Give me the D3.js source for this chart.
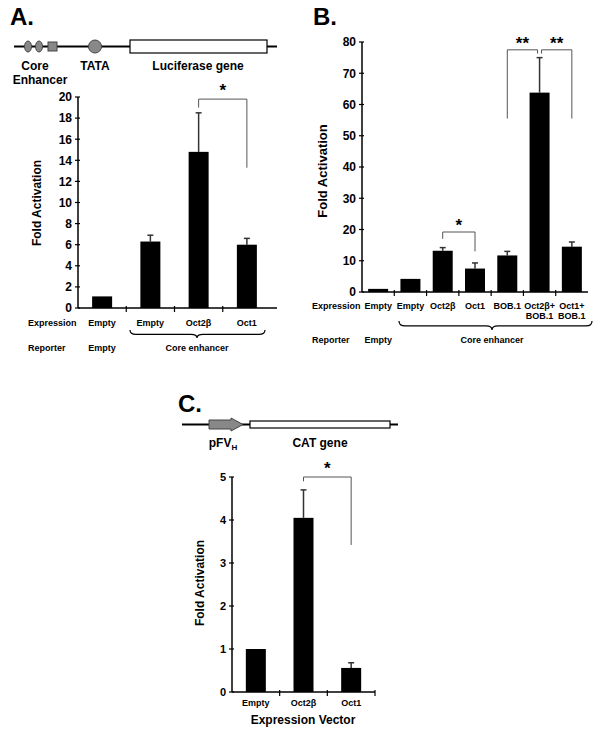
<!DOCTYPE html>
<html><head><meta charset="utf-8">
<script src="https://cdn.jsdelivr.net/npm/d3@7"></script>
<style>
body{margin:0;background:#fff}
svg text{font-family:"Liberation Sans",Arial,sans-serif;font-weight:bold;fill:#000}
</style></head>
<body>
<svg id="c" width="600" height="731"></svg>
<script>
// ---- Data ----
const catsA = ["Empty","Empty","Oct2β","Oct1"];
const valsA = [1.1, 6.3, 14.8, 6.0];
const errA  = [0, 0.6, 3.7, 0.6];
const reporterA = ["Empty","Core enhancer"];
const ticksA = [0,2,4,6,8,10,12,14,16,18,20];

const catsB = [["Empty"],["Empty"],["Oct2β"],["Oct1"],["BOB.1"],["Oct2β+","BOB.1"],["Oct1+","BOB.1"]];
const valsB = [1.0, 4.2, 13.2, 7.5, 11.7, 63.8, 14.5];
const errB  = [0, 0, 1.0, 1.8, 1.3, 11.2, 1.5];
const ticksB = [0,10,20,30,40,50,60,70,80];

const catsC = ["Empty","Oct2β","Oct1"];
const valsC = [1.0, 4.05, 0.56];
const errC  = [0, 0.65, 0.12];
const ticksC = [0,1,2,3,4,5];

// significance brackets: [fromIndex, toIndex, topValue, leftLegEnd, rightLegEnd, label]
const brA = [[2,3,19.8,19.0,13.3,"*"]];
const brB = [[2,3,19.2,17.0,13.0,"*"],[4,5,77.5,55.5,76.3,"**"],[5,6,77.5,76.3,55.5,"**"]];
const brC = [[1,2,5.0,4.9,3.42,"*"]];

const svg = d3.select("#c");
const FONT = "Liberation Sans, Arial, sans-serif";

function panel(cfg){
  const g = svg.append("g");
  const n = cfg.vals.length;
  const x = d3.scaleBand().domain(d3.range(n)).range(cfg.xr).padding(0);
  const y = d3.scaleLinear().domain(cfg.yd).range(cfg.yr);
  const cx = i => x(i) + x.bandwidth()/2;
  const y0 = y(0);
  // y axis
  g.append("line").attr("x1",cfg.xr[0]).attr("x2",cfg.xr[0]).attr("y1",y0).attr("y2",y(cfg.yd[1]))
    .attr("stroke","#000").attr("stroke-width",1.5);
  cfg.ticks.forEach(t=>{
    g.append("line").attr("x1",cfg.xr[0]-3).attr("x2",cfg.xr[0]+2).attr("y1",y(t)).attr("y2",y(t))
      .attr("stroke","#000").attr("stroke-width",1.2);
    g.append("text").attr("x",cfg.xr[0]-6).attr("y",y(t)).attr("dy","0.36em").attr("text-anchor","end")
      .attr("font-size",cfg.tickFs).text(t);
  });
  // x axis
  g.append("line").attr("x1",cfg.xr[0]).attr("x2",cfg.xr[1]+cfg.xext).attr("y1",y0).attr("y2",y0)
    .attr("stroke","#000").attr("stroke-width",1.5);
  const xt = d3.range(1, cfg.endTick ? n+1 : n);
  xt.forEach(i=>{
    const xx = cfg.xr[0] + i*x.bandwidth();
    g.append("line").attr("x1",xx).attr("x2",xx).attr("y1",y0-2).attr("y2",y0+4)
      .attr("stroke","#000").attr("stroke-width",1.2);
  });
  // error bars
  cfg.vals.forEach((v,i)=>{
    const e = cfg.err[i];
    if(e>0){
      g.append("line").attr("x1",cx(i)).attr("x2",cx(i)).attr("y1",y(v)).attr("y2",y(v+e))
        .attr("stroke","#333").attr("stroke-width",1.5);
      g.append("line").attr("x1",cx(i)-3).attr("x2",cx(i)+3).attr("y1",y(v+e)).attr("y2",y(v+e))
        .attr("stroke","#333").attr("stroke-width",1.5);
    }
  });
  // bars
  g.selectAll("rect.bar").data(cfg.vals).enter().append("rect")
    .attr("x",(d,i)=>cx(i)-cfg.bw/2).attr("width",cfg.bw)
    .attr("y",d=>y(d)).attr("height",d=>y0-y(d)).attr("fill","#000");
  // brackets
  cfg.br.forEach((b,k)=>{
    const off = cfg.brOff ? cfg.brOff[k] : [0,0];
    const xa = cx(b[0])+off[0], xb = cx(b[1])+off[1];
    g.append("path").attr("d",`M${xa},${y(b[3])}V${y(b[2])}H${xb}V${y(b[4])}`)
      .attr("fill","none").attr("stroke","#555").attr("stroke-width",1);
    g.append("text").attr("x",(xa+xb)/2).attr("y",y(b[2])+cfg.starDy).attr("text-anchor","middle")
      .attr("font-size",cfg.starFs).text(b[5]);
  });
  // y label
  g.append("text").attr("transform",`translate(${cfg.ylab[0]},${cfg.ylab[1]}) rotate(-90)`)
    .attr("text-anchor","middle").attr("dy","0.35em").attr("font-size",cfg.ylabFs).text("Fold Activation");
  return {x,y,cx};
}

function brace(x1,x2,yTop,h,xm){
  const r = 6;
  const ym = yTop + h*0.55;
  return `M${x1},${yTop} Q${x1},${ym} ${x1+r},${ym} L${xm-r},${ym} Q${xm},${ym} ${xm},${yTop+h} Q${xm},${ym} ${xm+r},${ym} L${x2-r},${ym} Q${x2},${ym} ${x2},${yTop}`;
}

// ---------- Panel A ----------
svg.append("text").attr("x",10).attr("y",25).attr("font-size",24).text("A.");
// diagram A
svg.append("line").attr("x1",14).attr("x2",277).attr("y1",46.5).attr("y2",46.5).attr("stroke","#000").attr("stroke-width",2);
[28,39].forEach(cxv=>svg.append("ellipse").attr("cx",cxv).attr("cy",46.5).attr("rx",3.5).attr("ry",5.5)
  .attr("fill","#888").attr("stroke","#444").attr("stroke-width",1));
svg.append("rect").attr("x",48).attr("y",42).attr("width",9).attr("height",9).attr("fill","#888").attr("stroke","#444");
svg.append("circle").attr("cx",95).attr("cy",46.5).attr("r",6.5).attr("fill","#888").attr("stroke","#444");
svg.append("rect").attr("x",130).attr("y",40).attr("width",137).attr("height",13).attr("fill","#fff").attr("stroke","#000").attr("stroke-width",1.2);
svg.append("text").attr("x",35).attr("y",70).attr("text-anchor","middle").attr("font-size",12).text("Core");
svg.append("text").attr("x",40).attr("y",84).attr("text-anchor","middle").attr("font-size",12).text("Enhancer");
svg.append("text").attr("x",95).attr("y",70).attr("text-anchor","middle").attr("font-size",12).text("TATA");
svg.append("text").attr("x",198).attr("y",70).attr("text-anchor","middle").attr("font-size",12).text("Luciferase gene");

const pA = panel({vals:valsA, err:errA, xr:[78,271], xext:6, yd:[0,20], yr:[308,97], ticks:ticksA,
  tickFs:12, bw:20, br:brA, starDy:-3, starFs:17, ylab:[37,203], ylabFs:12, endTick:false});
svg.append("text").attr("x",28).attr("y",326).attr("font-size",9).text("Expression");
catsA.forEach((c,i)=>svg.append("text").attr("x",pA.cx(i)).attr("y",326).attr("text-anchor","middle").attr("font-size",9).text(c));
svg.append("path").attr("d",brace(130,265,330,8,197)).attr("fill","none").attr("stroke","#000").attr("stroke-width",1.2);
svg.append("text").attr("x",28).attr("y",351).attr("font-size",9).text("Reporter");
svg.append("text").attr("x",pA.cx(0)).attr("y",351).attr("text-anchor","middle").attr("font-size",9).text(reporterA[0]);
svg.append("text").attr("x",197).attr("y",351).attr("text-anchor","middle").attr("font-size",9).text(reporterA[1]);

// ---------- Panel B ----------
svg.append("text").attr("x",313).attr("y",25).attr("font-size",24).text("B.");
const pB = panel({vals:valsB, err:errB, xr:[362,588], xext:0, yd:[0,80], yr:[292,42], ticks:ticksB,
  tickFs:12, bw:20, br:brB, brOff:[[0,0],[0,-2],[2,0]], starDy:-1, starFs:17, ylab:[322,171], ylabFs:13, endTick:false});
svg.append("text").attr("x",312).attr("y",309).attr("font-size",9).text("Expression");
catsB.forEach((c,i)=>c.forEach((l,j)=>svg.append("text").attr("x",pB.cx(i)).attr("y",309+j*9.5)
  .attr("text-anchor","middle").attr("font-size",9).text(l)));
svg.append("path").attr("d",brace(399,592,321,9,492)).attr("fill","none").attr("stroke","#000").attr("stroke-width",1.2);
svg.append("text").attr("x",312).attr("y",343).attr("font-size",9).text("Reporter");
svg.append("text").attr("x",pB.cx(0)).attr("y",343).attr("text-anchor","middle").attr("font-size",9).text(reporterA[0]);
svg.append("text").attr("x",492).attr("y",343).attr("text-anchor","middle").attr("font-size",9).text(reporterA[1]);

// ---------- Panel C ----------
svg.append("text").attr("x",178).attr("y",412).attr("font-size",24).text("C.");
svg.append("line").attr("x1",182).attr("x2",398).attr("y1",424.5).attr("y2",424.5).attr("stroke","#000").attr("stroke-width",2);
svg.append("path").attr("d","M209,420 L231,420 L231,418 L243,424.5 L231,431 L231,429 L209,429 Z")
  .attr("fill","#888").attr("stroke","#444").attr("stroke-width",1);
svg.append("rect").attr("x",250).attr("y",421).attr("width",140).attr("height",7).attr("fill","#fff").attr("stroke","#000").attr("stroke-width",1.2);
const pf = svg.append("text").attr("x",223).attr("y",447).attr("text-anchor","middle").attr("font-size",12);
pf.append("tspan").text("pFV");
pf.append("tspan").attr("font-size",8).attr("dy",3).text("H");
svg.append("text").attr("x",320).attr("y",447).attr("text-anchor","middle").attr("font-size",12).text("CAT gene");

const pC = panel({vals:valsC, err:errC, xr:[232,375], xext:0, yd:[0,5], yr:[692,477], ticks:ticksC,
  tickFs:11, bw:20, br:brC, starDy:-3, starFs:17, ylab:[200,583], ylabFs:12, endTick:true});
catsC.forEach((c,i)=>svg.append("text").attr("x",pC.cx(i)).attr("y",706).attr("text-anchor","middle").attr("font-size",9).text(c));
svg.append("text").attr("x",303).attr("y",724).attr("text-anchor","middle").attr("font-size",12).text("Expression Vector");
</script>
</body></html>
